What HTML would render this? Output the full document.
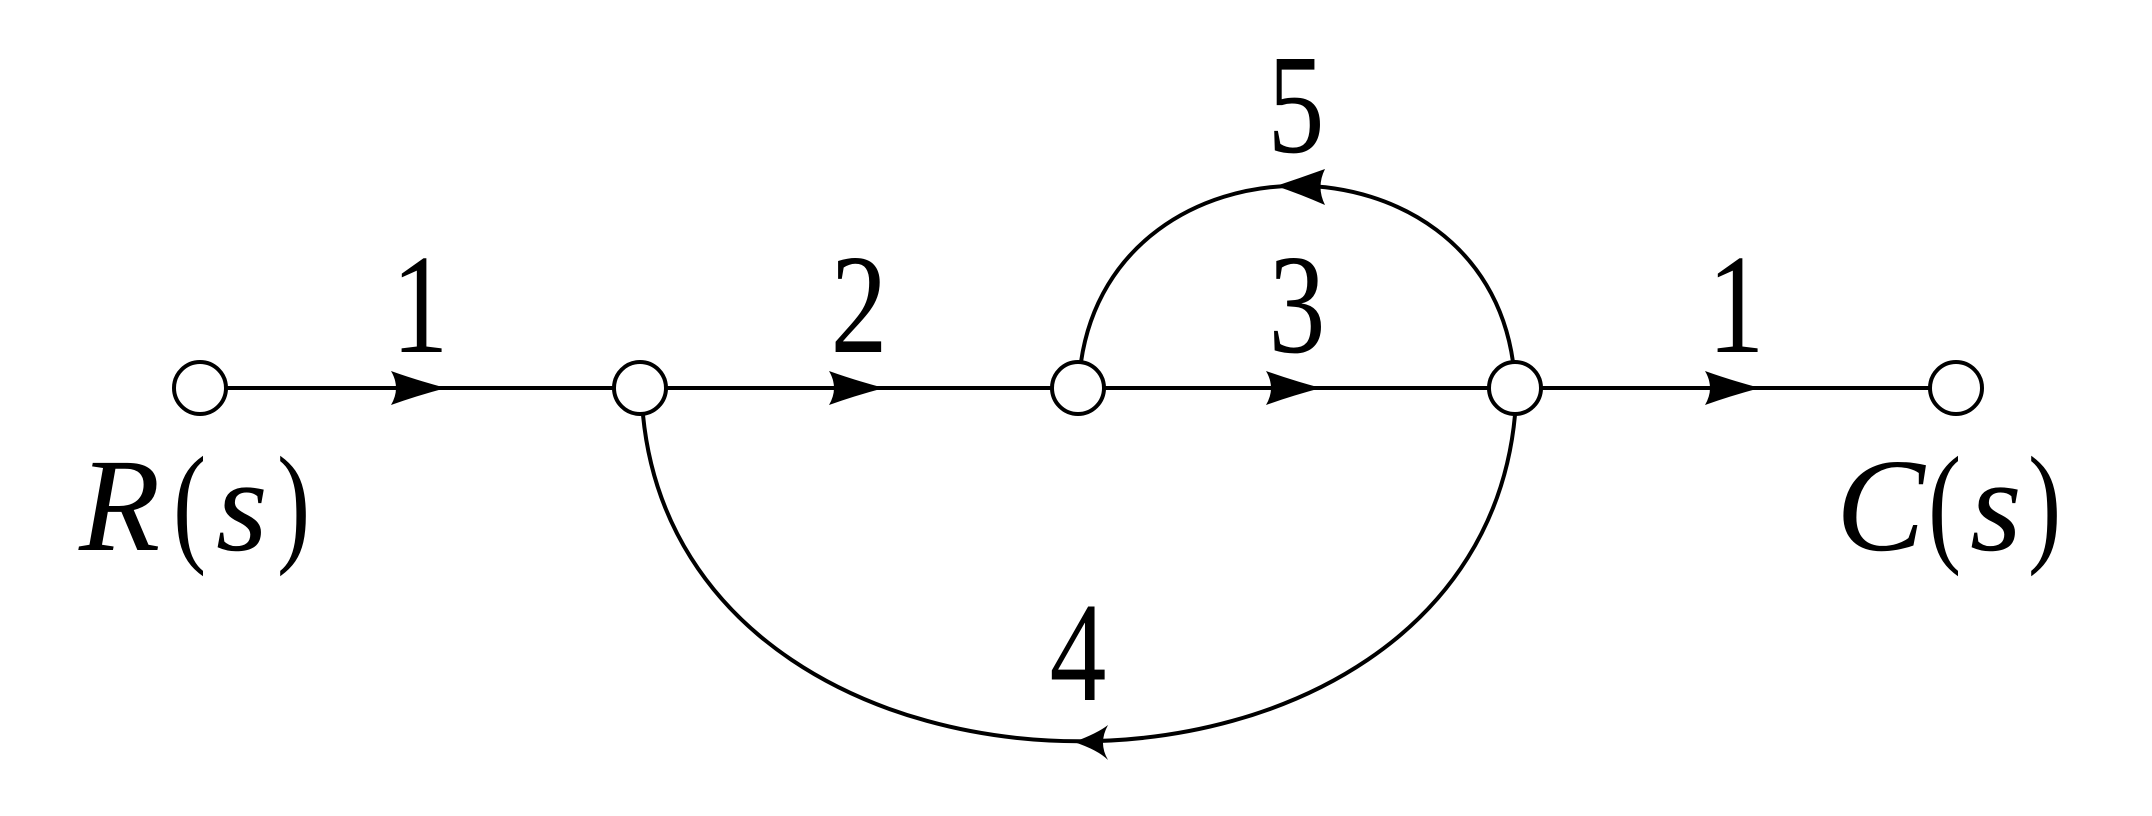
<!DOCTYPE html>
<html><head><meta charset="utf-8"><style>
html,body{margin:0;padding:0;background:#fff;}
svg{display:block;}
text{font-family:"Liberation Serif",serif;fill:#000;}
</style></head><body>
<svg width="2152" height="816" viewBox="0 0 2152 816" xmlns="http://www.w3.org/2000/svg">
<g stroke="#000" stroke-width="4" fill="none">
<line x1="200" y1="388" x2="1956" y2="388"/>
<path d="M1081,362 C1115,127 1480,127 1513,362"/>
<path d="M643,415 C685,850 1475,850 1515,415"/>
</g>
<g fill="#000">
<path d="M446,388 Q416,380 391,371 Q401,388 391,405 Q416,396 446,388Z"/>
<path d="M884,388 Q854,380 829,371 Q839,388 829,405 Q854,396 884,388Z"/>
<path d="M1321,388 Q1291,380 1266,371 Q1276,388 1266,405 Q1291,396 1321,388Z"/>
<path d="M1760,388 Q1730,380 1705,371 Q1715,388 1705,405 Q1730,396 1760,388Z"/>
<path d="M1276,186 Q1300,178 1325,169 Q1316,187 1325,205 Q1300,194 1276,186Z"/>
<path d="M1074,742 Q1098,733 1108,725 Q1098,743 1108,760 Q1098,750 1074,742Z"/>
</g>
<g stroke="#000" stroke-width="4" fill="#fff">
<circle cx="200" cy="388" r="26"/>
<circle cx="640" cy="388" r="26"/>
<circle cx="1078" cy="388" r="26"/>
<circle cx="1515" cy="388" r="26"/>
<circle cx="1956" cy="388" r="26"/>
</g>
<g font-size="142" text-anchor="middle">
<text transform="translate(420,352) scale(0.8,1)">1</text>
<text transform="translate(859,352) scale(0.8,1)">2</text>
<text transform="translate(1297,352) scale(0.8,1)">3</text>
<text transform="translate(1736,352) scale(0.8,1)">1</text>
<text transform="translate(1296,152) scale(0.8,1)">5</text>
<text transform="translate(1078,700) scale(0.8,1)">4</text>
</g>
<g font-size="133">
<text x="79" y="550" font-style="italic" textLength="80">R</text>
<text x="173" y="548" transform="translate(173,0) scale(0.75,1) translate(-173,0)">(</text>
<text x="216" y="550" font-style="italic">s</text>
<text x="277" y="548" transform="translate(277,0) scale(0.75,1) translate(-277,0)">)</text>
<text x="1836" y="550" font-style="italic">C</text>
<text x="1928" y="548" transform="translate(1928,0) scale(0.75,1) translate(-1928,0)">(</text>
<text x="1970" y="550" font-style="italic">s</text>
<text x="2028" y="548" transform="translate(2028,0) scale(0.75,1) translate(-2028,0)">)</text>
</g>
</svg>
</body></html>
